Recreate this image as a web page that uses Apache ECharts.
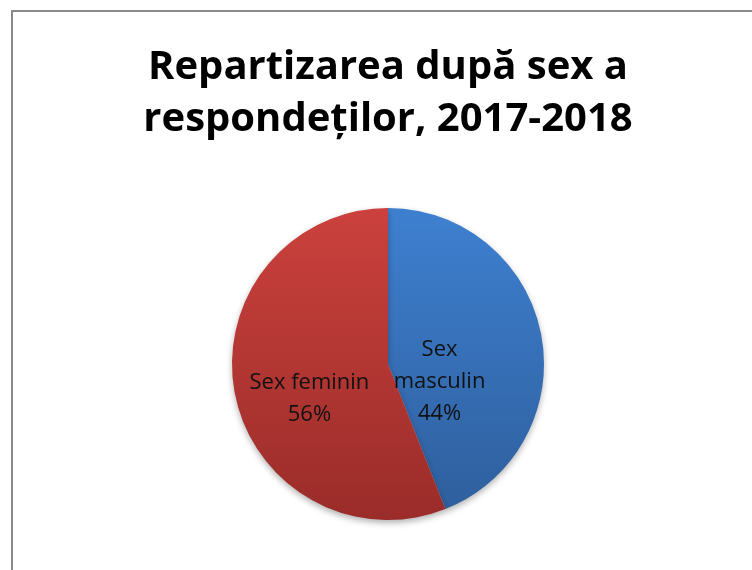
<!DOCTYPE html>
<html>
<head>
<meta charset="utf-8">
<script src="https://cdn.jsdelivr.net/npm/echarts@6/dist/echarts.min.js"></script>
<style>
  html, body { margin: 0; padding: 0; background: #fff; overflow: hidden; width: 752px; height: 570px; }
  #frame { position: absolute; left: 11px; top: 10px; width: 800px; height: 600px; border: 2px solid #898989; box-sizing: border-box; }
  /* wider than the window so the plot area is centred on x=388 like the original */
  #chart { position: absolute; left: 0; top: 0; width: 776px; height: 570px; }
</style>
</head>
<body>
<div id="frame"></div>
<div id="chart"></div>
<script>
const titleText = 'Repartizarea după sex a\nrespondeților, 2017-2018';
const categories = ['Sex masculin', 'Sex feminin'];
const labelNames = ['Sex\nmasculin', 'Sex feminin'];
const values = [44, 56];

const chart = echarts.init(document.getElementById('chart'));

const grad = (top, bottom) => new echarts.graphic.LinearGradient(0, 208, 0, 520, [
  { offset: 0, color: top },
  { offset: 1, color: bottom }
], true);
const fills = [grad('#3e80d0', '#2e5e9c'), grad('#cb413d', '#9a2c29')];
// nudge labels to where the original sits
const labelShift = [[-28, 33], [1, 20]];

chart.setOption({
  animation: false,
  title: {
    text: titleText,
    left: 'center',
    top: 37,
    textStyle: {
      fontFamily: 'Open Sans',
      fontWeight: 'bold',
      fontSize: 40,
      lineHeight: 52,
      color: '#000'
    }
  },
  series: [{
    type: 'pie',
    center: ['50%', 364],
    radius: [0, 156],
    startAngle: 90,
    clockwise: true,
    data: categories.map((c, i) => ({
      name: c,
      value: values[i],
      itemStyle: { color: fills[i] },
      label: { formatter: labelNames[i] + '\n{d}%' }
    })),
    label: {
      position: 'inner',
      fontFamily: 'Open Sans',
      fontSize: 22,
      lineHeight: 32,
      color: '#111',
      align: 'center'
    },
    labelLayout: (p) => ({ dx: labelShift[p.dataIndex][0], dy: labelShift[p.dataIndex][1] }),
    labelLine: { show: false },
    itemStyle: {
      borderWidth: 0,
      shadowBlur: 6,
      shadowOffsetY: 3,
      shadowColor: 'rgba(0,0,0,0.3)'
    },
    emphasis: { disabled: true }
  }]
});
</script>
</body>
</html>
